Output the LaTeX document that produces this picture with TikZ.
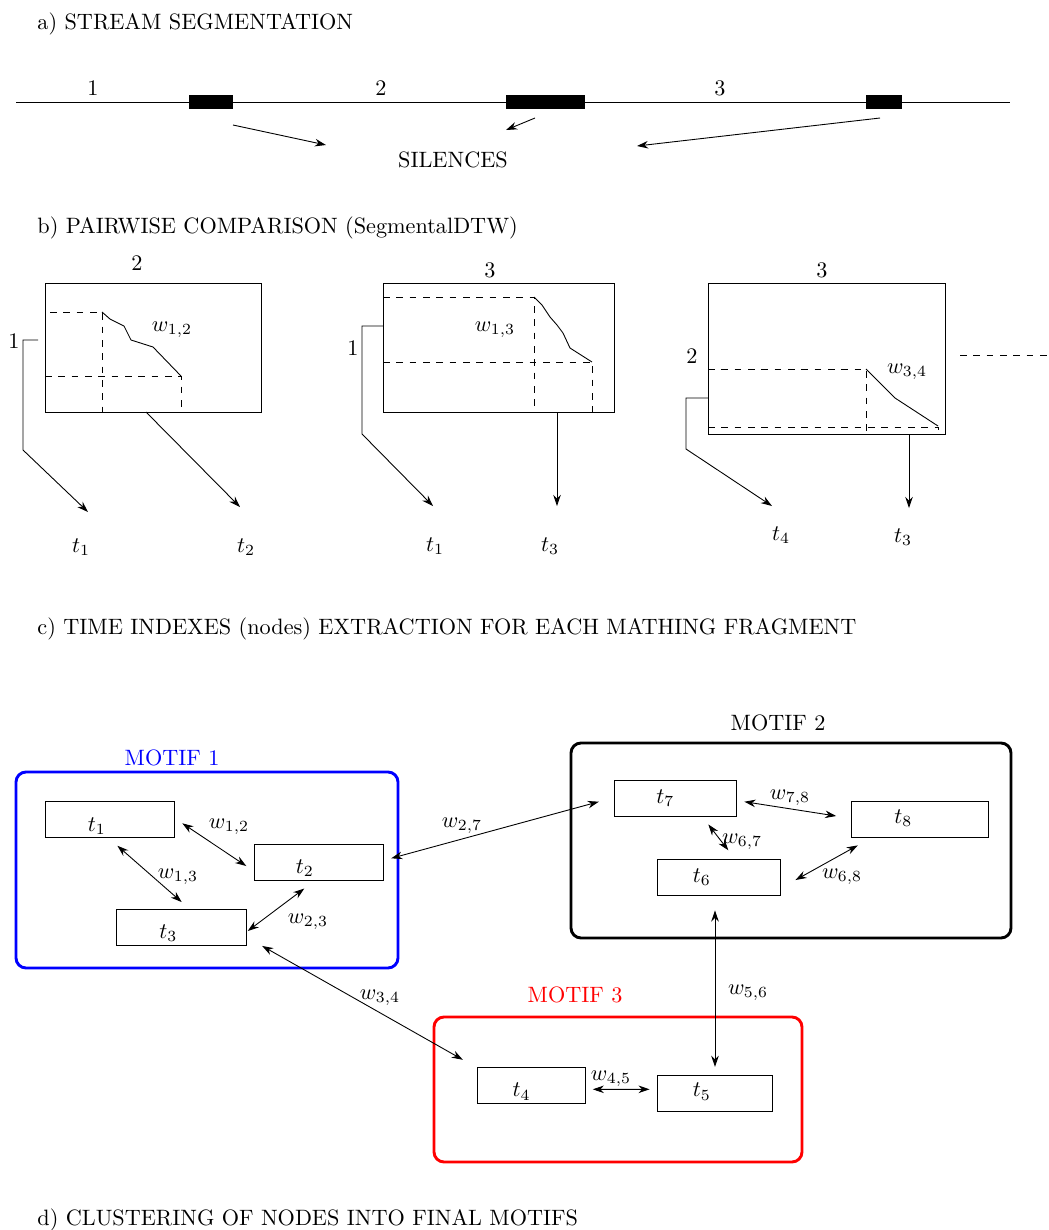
\documentclass[tikz,border=0pt]{standalone}
\usetikzlibrary{arrows.meta,calc}
\begin{document}
\begin{tikzpicture}[x=0.45pt,y=-0.45pt,
  >={Stealth[length=5pt,width=3.4pt]},
  heading/.style={anchor=west,inner sep=0pt},
  gridline/.style={dashed},
  tbox/.style={draw,minimum height=16.2pt,inner sep=0pt},
  motif/.style={line width=1.3pt,rounded corners=4.5pt}]
\useasboundingbox (0,0) rectangle (1049,1230);

% a) stream
\node[heading] (ta) at (37,24) {a) STREAM SEGMENTATION};
\draw (16,102) -- (1010,102);
\fill (189,95) rectangle (233,109);
\fill (506,95) rectangle (585,109);
\fill (866,95) rectangle (902,109);
\node (s1) at (93,88) {1};
\node (s2) at (381,88) {2};
\node (s3) at (720,88) {3};
\node (sil) at (453,160) {SILENCES};
\draw[->] (233,125) -- (326,145);
\draw[->] (535,118) -- (506,130);
\draw[->] (880,118) -- (637,146);

% b) pairwise comparison
\node[heading] (tb) at (37,228) {b) PAIRWISE COMPARISON (SegmentalDTW)};
\draw (45,283) rectangle (261,412);
\draw[gridline] (50,312) -- (102,312) -- (102,412);
\draw[gridline] (45,376) -- (181,376) -- (181,412);
\draw (102,312) -- (110,319) -- (124,326) -- (131,340) -- (153,347) -- (181,376);
\node (pa2) at (137,263) {2};
\node (pa1) at (14,341) {1};
\node (pw12) at (172,330) {$w_{1,2}$};
\draw[->] (38,340) -- (23,340) -- (23,450) -- (88,512);
\draw[->] (146,412) -- (240,507);
\node (pat1) at (81,547) {$t_1$};
\node (pat2) at (246,547) {$t_2$};

\draw (383,283) rectangle (614,412);
\draw[gridline] (383,297) -- (534,297) -- (534,412);
\draw[gridline] (383,362) -- (592,362) -- (592,412);
\draw (534,297) -- (542,305) -- (550,317) -- (557,325) -- (563,333) -- (570,348) -- (592,362);
\node (pb3) at (490,270) {3};
\node (pb1) at (353,348) {1};
\node (pw13) at (495,330) {$w_{1,3}$};
\draw[->] (383,326) -- (362,326) -- (362,434) -- (433,506);
\draw[->] (557,412) -- (557,506);
\node (pbt1) at (435,546) {$t_1$};
\node (pbt3) at (550,546) {$t_3$};

\draw (708,283) rectangle (945,434);
\draw[gridline] (708,369) -- (866,369) -- (866,434);
\draw[gridline] (708,427) -- (938,427) -- (938,434);
\draw (866,369) -- (895,398) -- (938,426);
\node (pc3) at (822,270) {3};
\node (pc2) at (692,356) {2};
\node (pw34) at (907,372) {$w_{3,4}$};
\draw[->] (708,398) -- (686,398) -- (686,449) -- (772,506);
\draw[->] (909,434) -- (909,508);
\node (pct4) at (781,535) {$t_4$};
\node (pct3) at (903,537) {$t_3$};
\draw[gridline] (960,355) -- (1047,355);

% c)
\node[heading] (tc) at (37,629) {c) TIME INDEXES (nodes) EXTRACTION FOR EACH MATHING FRAGMENT};

% d) motifs
\draw[motif,blue] (16,772) rectangle (398,968);
\node[blue] (m1) at (172,758) {MOTIF 1};
\draw[motif] (571,743) rectangle (1011,938);
\node (m2) at (778,723) {MOTIF 2};
\draw[motif,red] (434,1017) rectangle (802,1162);
\node[red] (m3) at (575,995) {MOTIF 3};

\node[tbox,minimum width=58.4pt,label={[xshift=-5.9pt,yshift=-2.8pt]center:$t_1$}] (t1) at (110,819.7) {};
\node[tbox,minimum width=58.2pt,label={[xshift=-6.2pt,yshift=-2.6pt]center:$t_2$}] (t2) at (318.7,862.5) {};
\node[tbox,minimum width=58.5pt,label={[xshift=-6pt,yshift=-2.6pt]center:$t_3$}] (t3) at (181.7,927.5) {};
\node[tbox,minimum width=55.2pt,label={[xshift=-4.5pt]center:$t_7$}] (t7) at (675.3,798) {};
\node[tbox,minimum width=61.7pt,label={[xshift=-7.6pt,yshift=0.4pt]center:$t_8$}] (t8) at (920.2,819.2) {};
\node[tbox,minimum width=55.2pt,label={[xshift=-7.6pt]center:$t_6$}] (t6) at (718.7,877) {};
\node[tbox,minimum width=48.8pt,label={[xshift=-4.5pt,yshift=-2.6pt]center:$t_4$}] (t4) at (531.5,1085.9) {};
\node[tbox,minimum width=51.9pt,label={[xshift=-5.9pt,yshift=0.6pt]center:$t_5$}] (t5) at (715,1093) {};

\draw[<->] ($(t1.east)+(7,3.6)$) -- ($(t2.west)+(-7.3,3.5)$);
\draw[<->] ($(t1.south)+(7.4,7.6)$) -- ($(t3.north)+(0,-7)$);
\draw[<->] ($(t2.south)+(-14.4,7.6)$) -- ($(t3.east)+(0.6,3.5)$);
\draw[<->] ($(t3.south east)+(15,0)$) -- ($(t4.north west)+(-14,-7.7)$);
\draw[<->] ($(t2.east)+(7.4,-4.2)$) -- ($(t7.west)+(-14.7,3.7)$);
\draw[<->] ($(t7.east)+(7.3,3.7)$) -- ($(t8.west)+(-15,-3.2)$);
\draw[<->] ($(t7.south)+(33,8)$) -- ($(t6.north)+(9.6,-8.3)$);
\draw[<->] ($(t8.south west)+(6.6,7.7)$) -- ($(t6.east)+(15,3)$);
\draw[<->] ($(t6.south)+(-3.7,15)$) -- ($(t5.north)+(0,-7.7)$);
\draw[<->] ($(t4.east)+(6.6,3.4)$) -- ($(t5.west)+(-7.3,-3.7)$);

\node (w12) at (229,827) {$w_{1,2}$};
\node (w13) at (178,877) {$w_{1,3}$};
\node (w23) at (308,922) {$w_{2,3}$};
\node (w34) at (380,998) {$w_{3,4}$};
\node (w27) at (462,826) {$w_{2,7}$};
\node (w78) at (790,798) {$w_{7,8}$};
\node (w67) at (742,842) {$w_{6,7}$};
\node (w68) at (842,877) {$w_{6,8}$};
\node (w56) at (748,993) {$w_{5,6}$};
\node (w45) at (611,1079) {$w_{4,5}$};

\node[heading] (td) at (37,1220) {d) CLUSTERING OF NODES INTO FINAL MOTIFS};
\end{tikzpicture}
\end{document}
